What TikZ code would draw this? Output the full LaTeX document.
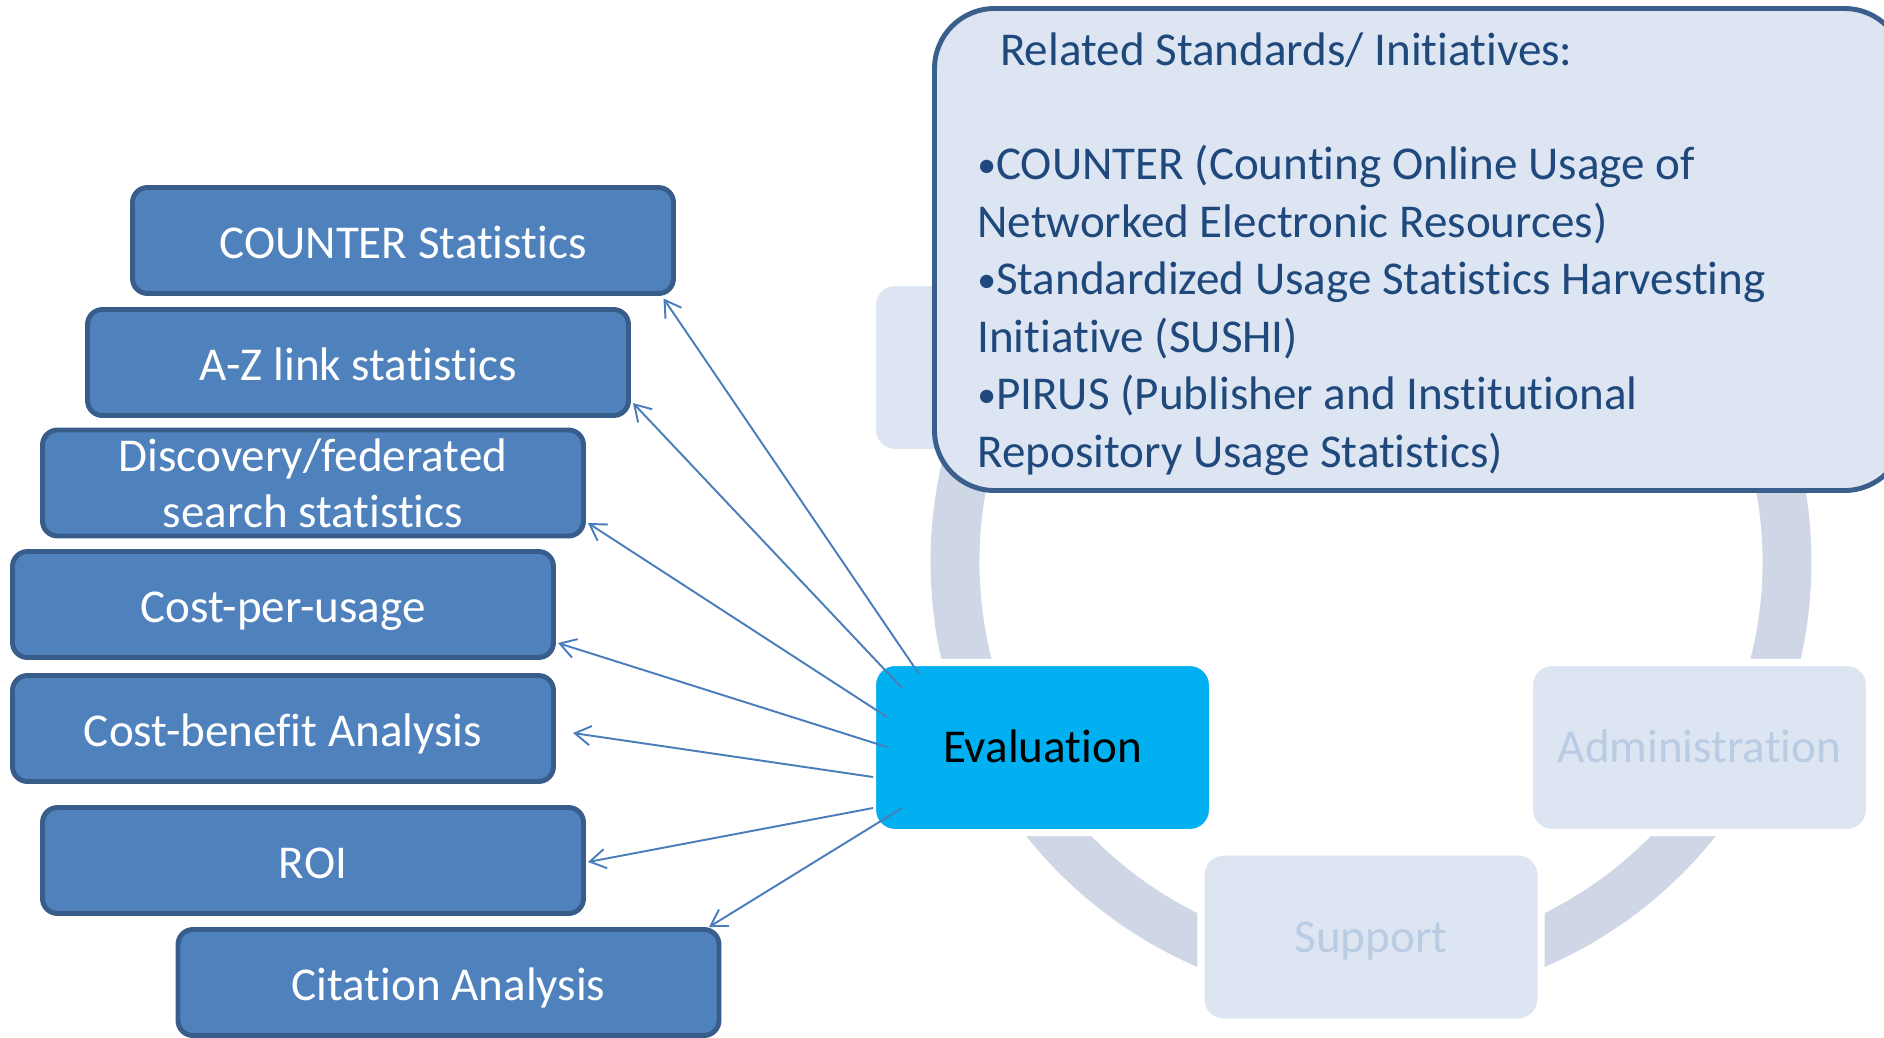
\documentclass[tikz,border=0pt]{standalone}
\usepackage{fontspec}
\setmainfont{Carlito}[Ligatures=NoCommon]
\usetikzlibrary{arrows.meta}

\definecolor{boxBlue}{HTML}{4F81BD}
\definecolor{boxLine}{HTML}{385D8A}
\definecolor{evalCyan}{HTML}{00B0F0}
\definecolor{paleFill}{HTML}{DCE5F1}
\definecolor{paleText}{HTML}{B9CCE4}
\definecolor{ringGrey}{HTML}{CFD7E7}
\definecolor{stdsLine}{HTML}{3B5F8C}
\definecolor{stdsText}{HTML}{1F497D}
\definecolor{arrowBlue}{HTML}{4A7EBB}

\newcommand{\bodyFont}{\fontsize{26.8pt}{31.8pt}\selectfont}
\newcommand{\stdBullet}{\raisebox{0.06em}{\scalebox{0.8}{•}}}

\tikzset{
    statBox/.style={rectangle, rounded corners=3mm, draw=boxLine, line width=2.8pt, fill=boxBlue, text=white, minimum width=108.2mm, minimum height=21.2mm, inner sep=0pt, outer sep=0pt, align=center, font=\bodyFont},
    oneLine/.style={statBox, text height=26.3pt, text depth=5.9pt},
    cycleBox/.style={rectangle, rounded corners=4.5mm, draw=white, line width=4pt, fill=paleFill, text=paleText, minimum width=68mm, minimum height=34mm, inner sep=0pt, outer sep=0pt, text height=23.3pt, text depth=6pt, font=\bodyFont},
    evalArrow/.style={draw=arrowBlue, line width=1.1pt, -{Straight Barb[length=9pt, width=11pt]}}
}

\begin{document}
\begin{tikzpicture}[x=0.2mm, y=-0.2mm]
\useasboundingbox (0,0) rectangle (1884,1037);
\fill[white] (0,0) rectangle (1884,1037);
\begin{scope}
\clip (0,0) rectangle (1884,1037);

\draw[ringGrey, line width=27.8pt] (1371,562) circle[radius=416];

\node[cycleBox] (hiddenBox) at (1042.5,367.5) {};
\node[cycleBox] (adminBox) at (1699.5,747.5) {Administration};
\node[cycleBox] (supportBox) at (1371,937) {Support};

\node[rectangle, rounded corners=12mm, draw=stdsLine, line width=2.8pt, fill=paleFill, minimum width=194mm, minimum height=96.4mm, inner sep=0pt, outer sep=0pt, anchor=north west] (stdsBox) at (934.5,8.5) {};
\node[text=stdsText, align=left, inner sep=0pt, anchor=north west, font=\fontsize{26.8pt}{32.7pt}\selectfont] (stdsText) at (977,32) {\hspace*{13pt}Related Standards/ Initiatives:\\[32.7pt]
\stdBullet COUNTER (Counting Online Usage of\\
Networked Electronic Resources)\\
\stdBullet Standardized Usage Statistics Harvesting\\
Initiative (SUSHI)\\
\stdBullet PIRUS (Publisher and Institutional\\
Repository Usage Statistics)};

\node[oneLine] (counterStats) at (403,240.5) {COUNTER Statistics};
\node[oneLine] (azLink) at (358,362.5) {A-Z link statistics};
\node[statBox] (discSearch) at (313,483) {Discovery/federated\\search statistics};
\node[oneLine] (costUsage) at (283,604.5) {Cost-per-usage};
\node[oneLine] (costBenefit) at (283,728.5) {Cost-benefit Analysis};
\node[oneLine] (roiBox) at (313,860.5) {ROI};
\node[oneLine] (citeAnalysis) at (448.5,982.5) {Citation Analysis};

\node[cycleBox, fill=evalCyan, text=black] (evalBox) at (1042.5,747.5) {Evaluation};

\draw[evalArrow] ([shift={(46.5,11.5)}]evalBox.north west) -- ([shift={(-10,5)}]counterStats.south east);
\draw[evalArrow] ([shift={(29.5,25.5)}]evalBox.north west) -- ([shift={(4.5,-12.5)}]azLink.south east);
\draw[evalArrow] ([shift={(14.5,54.5)}]evalBox.north west) -- ([shift={(4.5,-13)}]discSearch.south east);
\draw[evalArrow] ([shift={(14.5,84.5)}]evalBox.north west) -- ([shift={(4.5,-14.5)}]costUsage.south east);
\draw[evalArrow] ([shift={(0.5,114.5)}]evalBox.north west) -- ([shift={(19.5,4.5)}]costBenefit.east);
\draw[evalArrow] ([shift={(0.5,145.5)}]evalBox.north west) -- ([shift={(4.5,1.5)}]roiBox.east);
\draw[evalArrow] ([shift={(29.5,145.5)}]evalBox.north west) -- ([shift={(-10,-2.5)}]citeAnalysis.north east);
\end{scope}
\end{tikzpicture}
\end{document}
